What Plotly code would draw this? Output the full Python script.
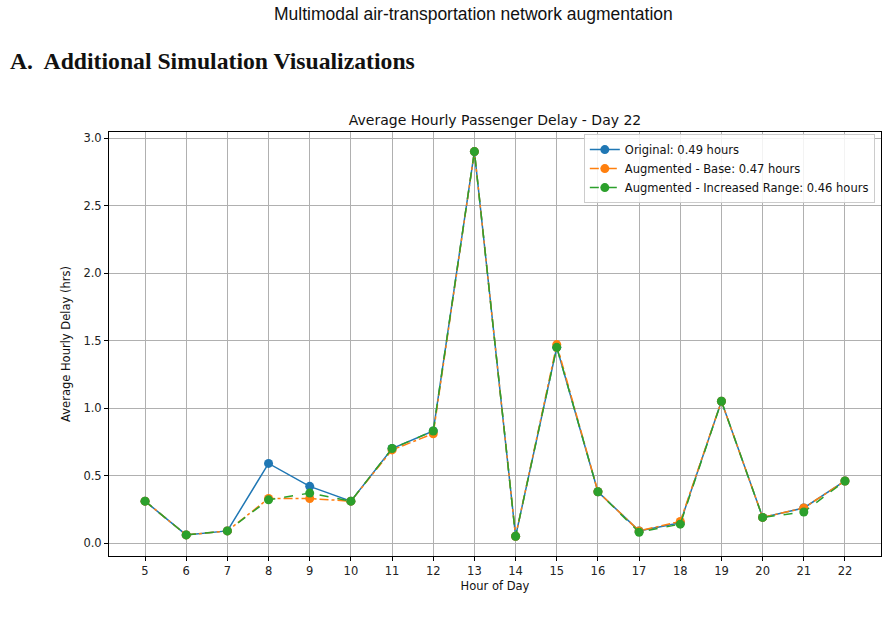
import plotly.graph_objects as go

hours = [5, 6, 7, 8, 9, 10, 11, 12, 13, 14, 15, 16, 17, 18, 19, 20, 21, 22]
original = [0.31, 0.06, 0.09, 0.59, 0.42, 0.31, 0.70, 0.83, 2.90, 0.05, 1.45, 0.38, 0.09, 0.15, 1.05, 0.19, 0.26, 0.46]
aug_base = [0.31, 0.06, 0.09, 0.33, 0.33, 0.31, 0.69, 0.81, 2.90, 0.05, 1.47, 0.38, 0.09, 0.16, 1.05, 0.19, 0.26, 0.46]
aug_range = [0.31, 0.06, 0.09, 0.32, 0.37, 0.31, 0.70, 0.83, 2.90, 0.05, 1.45, 0.38, 0.08, 0.14, 1.05, 0.19, 0.23, 0.46]
names = ["Original: 0.49 hours", "Augmented - Base: 0.47 hours", "Augmented - Increased Range: 0.46 hours"]
colors = ["#1f77b4", "#ff7f0e", "#2ca02c"]
dashes = ["solid", "dashdot", "dash"]
y_ticks = [0.0, 0.5, 1.0, 1.5, 2.0, 2.5, 3.0]

fig = go.Figure()
for ys, nm, c, d in zip([original, aug_base, aug_range], names, colors, dashes):
    fig.add_trace(go.Scatter(
        x=hours, y=ys, name=nm, mode="lines+markers",
        line=dict(color=c, width=1.5, dash=d),
        marker=dict(color=c, size=9),
    ))

font = "DejaVu Sans"
fig.update_layout(
    width=888, height=619,
    margin=dict(l=109, r=7, t=132, b=63),
    paper_bgcolor="white", plot_bgcolor="white",
    font=dict(family=font, size=11.5, color="#222"),
    title=dict(text="Average Hourly Passenger Delay - Day 22", x=0.5575, xanchor="center",
               y=1 - 120 / 619, yanchor="middle", font=dict(size=14, family=font, color="#111")),
    showlegend=True,
    legend=dict(x=0.992, y=0.995, xanchor="right", yanchor="top",
                bgcolor="rgba(255,255,255,0.85)", bordercolor="#cccccc", borderwidth=1,
                font=dict(size=11.5, family=font, color="#111"),
                tracegroupgap=0, itemwidth=30),
)
fig.update_xaxes(
    range=[4.125, 22.875], tickmode="array", tickvals=hours, ticktext=[str(h) for h in hours],
    showgrid=True, gridcolor="#b0b0b0", gridwidth=1,
    showline=True, linecolor="black", linewidth=1, mirror=True,
    ticks="outside", ticklen=4, tickcolor="black", zeroline=False,
    title=dict(text="Hour of Day", font=dict(size=11.5, family=font, color="#111"), standoff=5),
)
fig.update_yaxes(
    range=[-0.096, 3.045], tickmode="array", tickvals=y_ticks, ticktext=[f"{v:.1f}" for v in y_ticks],
    showgrid=True, gridcolor="#b0b0b0", gridwidth=1,
    showline=True, linecolor="black", linewidth=1, mirror=True,
    ticks="outside", ticklen=4, tickcolor="black", zeroline=False,
    title=dict(text="Average Hourly Delay (hrs)", font=dict(size=11.5, family=font, color="#111"), standoff=10),
)
fig.add_annotation(text="Multimodal air-transportation network augmentation", xref="paper", yref="paper",
                   x=(473 - 109) / 772, y=1 + (132 - 14) / 424, xanchor="center", yanchor="middle",
                   showarrow=False, font=dict(size=17.5, family="Liberation Sans", color="#111"))
fig.add_annotation(text="<b>A.  Additional Simulation Visualizations</b>", xref="paper", yref="paper",
                   x=(8 - 109) / 772, y=1 + (132 - 61) / 424, xanchor="left", yanchor="middle",
                   showarrow=False, font=dict(size=23.7, family="Liberation Serif", color="#111"))
fig.write_html("out.html")
